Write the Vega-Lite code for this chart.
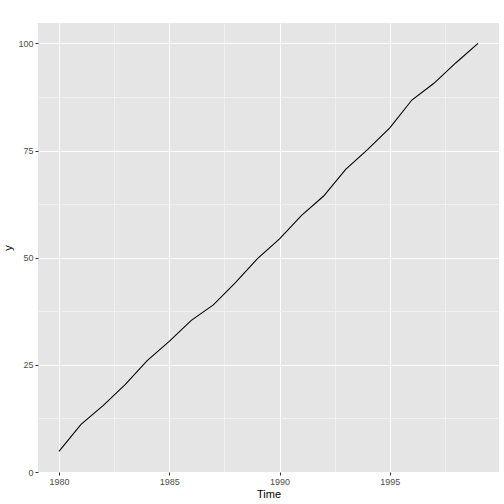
{
  "$schema": "https://vega.github.io/schema/vega-lite/v6.json",
  "width": 461,
  "height": 449,
  "autosize": {"type": "none"},
  "padding": {"left": 38, "top": 23, "right": 5, "bottom": 32},
  "background": "white",
  "config": {
    "view": {"fill": "#E5E5E5", "stroke": null},
    "font": "Liberation Sans"
  },
  "data": {
    "values": [
      {"Time": 1980, "y": 4.8},
      {"Time": 1981, "y": 11.1},
      {"Time": 1982, "y": 15.5},
      {"Time": 1983, "y": 20.4},
      {"Time": 1984, "y": 26.0},
      {"Time": 1985, "y": 30.5},
      {"Time": 1986, "y": 35.4},
      {"Time": 1987, "y": 39.0},
      {"Time": 1988, "y": 44.2},
      {"Time": 1989, "y": 49.8},
      {"Time": 1990, "y": 54.4},
      {"Time": 1991, "y": 59.9},
      {"Time": 1992, "y": 64.4},
      {"Time": 1993, "y": 70.6},
      {"Time": 1994, "y": 75.3},
      {"Time": 1995, "y": 80.3},
      {"Time": 1996, "y": 86.8},
      {"Time": 1997, "y": 90.7},
      {"Time": 1998, "y": 95.5},
      {"Time": 1999, "y": 100.0}
    ]
  },
  "mark": {"type": "line", "color": "black", "strokeWidth": 1.07},
  "encoding": {
    "x": {
      "field": "Time",
      "type": "quantitative",
      "scale": {"domain": [1979.05, 1999.95], "nice": false, "zero": false},
      "axis": {
        "title": "Time",
        "values": [1980, 1982.5, 1985, 1987.5, 1990, 1992.5, 1995, 1997.5],
        "format": "d",
        "labelExpr": "datum.value % 5 === 0 ? datum.label : ''",
        "labelOverlap": false,
        "labelFlush": false,
        "domain": false,
        "grid": true,
        "gridColor": {"condition": {"test": "datum.value % 5 !== 0", "value": "#F2F2F2"}, "value": "white"},
        "gridWidth": {"condition": {"test": "datum.value % 5 !== 0", "value": 0.8}, "value": 1.07},
        "tickColor": "#333333",
        "tickOpacity": {"condition": {"test": "datum.value % 5 !== 0", "value": 0}, "value": 1},
        "tickSize": 3,
        "tickWidth": 1.07,
        "labelColor": "#4D4D4D",
        "labelFontSize": 9,
        "labelPadding": 2,
        "titleColor": "black",
        "titleFontSize": 11,
        "titleFontWeight": "normal",
        "titlePadding": 2
      }
    },
    "y": {
      "field": "y",
      "type": "quantitative",
      "scale": {"domain": [0, 104.77], "nice": false, "zero": false},
      "axis": {
        "title": "y",
        "values": [0, 12.5, 25, 37.5, 50, 62.5, 75, 87.5, 100],
        "format": "d",
        "labelExpr": "datum.value % 25 === 0 ? datum.label : ''",
        "labelOverlap": false,
        "labelFlush": false,
        "domain": false,
        "grid": true,
        "gridColor": {"condition": {"test": "datum.value % 25 !== 0", "value": "#F2F2F2"}, "value": "white"},
        "gridWidth": {"condition": {"test": "datum.value % 25 !== 0", "value": 0.8}, "value": 1.07},
        "tickColor": "#333333",
        "tickOpacity": {"condition": {"test": "datum.value % 25 !== 0", "value": 0}, "value": 1},
        "tickSize": 3,
        "tickWidth": 1.07,
        "labelColor": "#4D4D4D",
        "labelFontSize": 9,
        "labelPadding": 2,
        "titleColor": "black",
        "titleFontSize": 11,
        "titleFontWeight": "normal",
        "titlePadding": 4
      }
    }
  }
}
